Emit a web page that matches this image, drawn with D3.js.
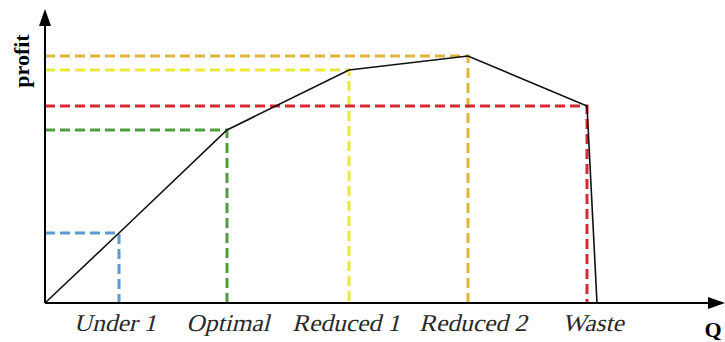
<!DOCTYPE html>
<html><head><meta charset="utf-8">
<script src="https://cdn.jsdelivr.net/npm/d3@7"></script>
<style>body{margin:0;background:#fff}</style>
</head><body>
<svg id="c" width="725" height="342"></svg>
<script>
const categories = ["Under 1", "Optimal", "Reduced 1", "Reduced 2", "Waste"];
const qValues = [74, 182, 304, 423, 542];
const profitValues = [70, 173, 233, 247, 197];
const colors = ["#5b9bd5", "#4e9e3e", "#eaea3c", "#e2b43a", "#d42a32"];
const curveQ = [0, 74, 182, 304, 423, 542, 552];
const curveProfit = [0, 70, 173, 233, 247, 197, 0];

const svg = d3.select("#c");
const x = d3.scaleLinear().domain([0, 677]).range([45, 722]);
const y = d3.scaleLinear().domain([0, 294]).range([303, 9]);

// dashed guides
categories.forEach((c, i) => {
  svg.append("path")
    .attr("d", `M${x(0)},${y(profitValues[i])}H${x(qValues[i])}V${y(0)}`)
    .attr("fill", "none").attr("stroke", colors[i]).attr("stroke-width", 3)
    .attr("stroke-dasharray", "10,5");
});

// curve
const line = d3.line().x(d => x(d[0])).y(d => y(d[1]));
svg.append("path").datum(curveQ.map((q, i) => [q, curveProfit[i]]))
  .attr("d", line).attr("fill", "none").attr("stroke", "#111").attr("stroke-width", 1.6);

// axes
svg.append("line").attr("x1", x(0)).attr("y1", y(0)).attr("x2", x(0)).attr("y2", 24)
  .attr("stroke", "#000").attr("stroke-width", 2);
svg.append("path").attr("d", `M${x(0)},9L${x(0)-6},26L${x(0)+6},26Z`).attr("fill", "#000");
svg.append("line").attr("x1", x(0)).attr("y1", y(0)).attr("x2", 708).attr("y2", y(0))
  .attr("stroke", "#000").attr("stroke-width", 2);
svg.append("path").attr("d", `M725,${y(0)}L708,${y(0)-6}L708,${y(0)+6}Z`).attr("fill", "#000");

// category labels (serif, slanted: Liberation Serif has no italic face installed)
const labelOffset = [-4, 1, -3, 5, 6];
svg.selectAll("text.cat").data(categories).enter().append("text")
  .attr("class", "cat")
  .attr("transform", (d, i) => `translate(${x(qValues[i]) + labelOffset[i]},331) skewX(-14) scale(1.06,1)`)
  .attr("text-anchor", "middle")
  .attr("font-family", "'Liberation Serif', 'Times New Roman', serif")
  .attr("font-size", 24).attr("fill", "#2a2a2a")
  .text(d => d);

svg.append("text").attr("x", 713).attr("y", 337).attr("text-anchor", "middle")
  .attr("font-family", "'Liberation Serif', serif").attr("font-weight", "bold")
  .attr("font-size", 22).text("Q");

svg.append("text").attr("transform", "translate(29,61) rotate(-90)")
  .attr("text-anchor", "middle")
  .attr("font-family", "'Liberation Serif', serif").attr("font-weight", "bold")
  .attr("font-size", 22).text("profit");
</script>
</body></html>
